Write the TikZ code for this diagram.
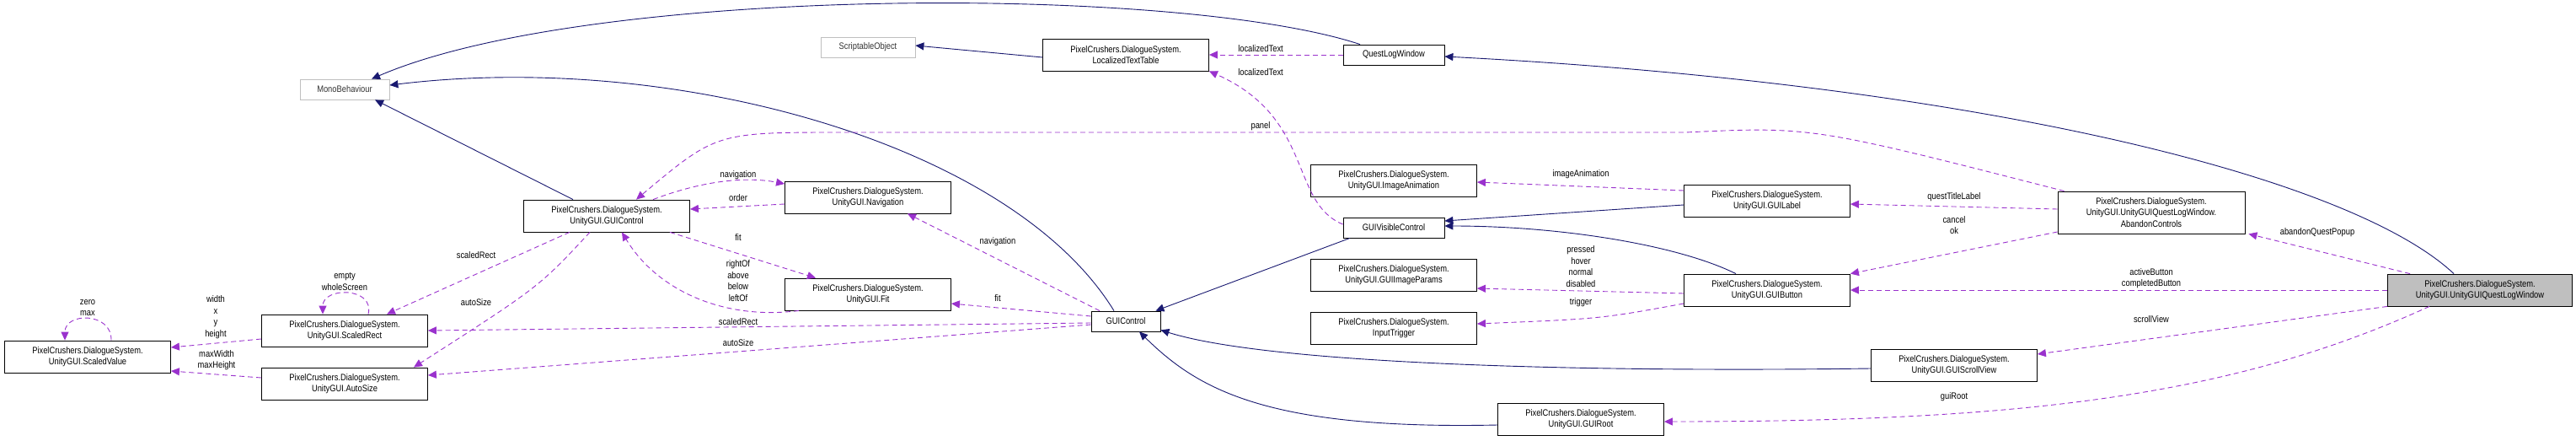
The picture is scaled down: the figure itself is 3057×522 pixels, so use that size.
\documentclass[tikz,border=0pt]{standalone}
\usepackage{fontspec}
\setmainfont{Liberation Sans}[FakeStretch=0.85]
\usetikzlibrary{arrows.meta}
\definecolor{inhblue}{HTML}{191970}
\definecolor{usepurple}{HTML}{9A32CD}
\definecolor{extgray}{HTML}{BFBFBF}

\begin{document}
\begin{tikzpicture}[%
x=1pt, y=-1pt,
cls/.style={draw=black, line width=0.8pt, fill=white, inner sep=1pt, minimum width=197pt, minimum height=38pt, align=center, font=\fontsize{11}{13.5}\selectfont},
small/.style={cls, minimum width=#1, minimum height=24pt},
ext/.style={small=#1, draw=extgray, text=black!80},
inh/.style={draw=inhblue, line width=0.9pt, -{Triangle[length=10pt,width=9pt]}},
use/.style={draw=usepurple, line width=0.9pt, dash pattern=on 6pt off 4pt, -{Triangle[length=10pt,width=9pt]}},
lbl/.style={align=center, inner sep=0pt, font=\fontsize{11}{13.5}\selectfont},
]
\useasboundingbox (0,0) rectangle (3057,522);
%% classes
\node[ext=106pt] (mono) at (409,106) {MonoBehaviour};
\node[ext=112pt] (scriptobj) at (1030,56) {ScriptableObject};
\node[cls] (loctable) at (1336,65) {PixelCrushers.DialogueSystem.\\LocalizedTextTable};
\node[small=120pt] (qlw) at (1654,65) {QuestLogWindow};
\node[cls] (gctrl) at (720,256) {PixelCrushers.DialogueSystem.\\UnityGUI.GUIControl};
\node[cls] (nav) at (1030,234) {PixelCrushers.DialogueSystem.\\UnityGUI.Navigation};
\node[cls] (fit) at (1030,349) {PixelCrushers.DialogueSystem.\\UnityGUI.Fit};
\node[cls] (srect) at (409,392) {PixelCrushers.DialogueSystem.\\UnityGUI.ScaledRect};
\node[cls] (asize) at (409,455) {PixelCrushers.DialogueSystem.\\UnityGUI.AutoSize};
\node[cls] (sval) at (104,423) {PixelCrushers.DialogueSystem.\\UnityGUI.ScaledValue};
\node[small=82pt] (guictrl) at (1336,381) {GUIControl};
\node[small=120pt] (visctrl) at (1654,270) {GUIVisibleControl};
\node[cls] (imganim) at (1654,214) {PixelCrushers.DialogueSystem.\\UnityGUI.ImageAnimation};
\node[cls] (imgparams) at (1654,326) {PixelCrushers.DialogueSystem.\\UnityGUI.GUIImageParams};
\node[cls] (trig) at (1654,389) {PixelCrushers.DialogueSystem.\\InputTrigger};
\node[cls] (glabel) at (2097,238) {PixelCrushers.DialogueSystem.\\UnityGUI.GUILabel};
\node[cls] (gbutton) at (2097,344) {PixelCrushers.DialogueSystem.\\UnityGUI.GUIButton};
\node[cls] (groot) at (1876,497) {PixelCrushers.DialogueSystem.\\UnityGUI.GUIRoot};
\node[cls] (scroll) at (2319,433) {PixelCrushers.DialogueSystem.\\UnityGUI.GUIScrollView};
\node[cls, minimum width=222pt, minimum height=50pt] (abandon) at (2553,252) {PixelCrushers.DialogueSystem.\\UnityGUI.UnityGUIQuestLogWindow.\\AbandonControls};
\node[cls, fill=extgray, minimum width=219pt] (uqlw) at (2943,344) {PixelCrushers.DialogueSystem.\\UnityGUI.UnityGUIQuestLogWindow};
%% inheritance
\draw[inh] ([xshift=-40]gctrl.north) -- ([xshift=36]mono.south);
\draw[inh] ([xshift=-40]qlw.north) .. controls (1400,-18) and (700,-18) .. ([xshift=32]mono.north);
\draw[inh] ([yshift=-3]loctable.west) -- ([yshift=2]scriptobj.east);
\draw[inh] ([xshift=-31]uqlw.north) .. controls (2790,210) and (2350,100) .. ([yshift=-2]qlw.east);
\draw[inh] ([xshift=-14]guictrl.north) .. controls (1200,170) and (800,60) .. ([yshift=5]mono.east);
\draw[inh] ([xshift=-52]visctrl.south) -- ([xshift=-6]guictrl.north east);
\draw[inh] ([yshift=-5]glabel.west) -- ([yshift=8]visctrl.east);
\draw[inh] ([xshift=-37]gbutton.north) .. controls (1990,290) and (1850,268) .. ([yshift=2]visctrl.east);
\draw[inh] ([yshift=-4]scroll.west) .. controls (1850,442) and (1500,430) .. ([yshift=2]guictrl.south east);
\draw[inh] ([yshift=-7]groot.west) .. controls (1500,510) and (1420,460) .. ([xshift=16]guictrl.south);
%% usage
\draw[use] (qlw.west) -- (loctable.east);
\draw[use] ([yshift=4]visctrl.west) .. controls (1530,240) and (1560,140) .. (loctable.south east);
\draw[use] ([xshift=8]abandon.north west) .. controls (2150,150) .. (2000,157) -- (1000,157) .. controls (850,157) .. ([xshift=35]gctrl.north);
\draw[use] ([xshift=55]gctrl.north) .. controls (840,212) and (890,210) .. ([yshift=16]nav.west);
\draw[use] ([yshift=-8]nav.west) -- ([yshift=8]gctrl.east);
\draw[use] ([xshift=75]gctrl.south) -- ([xshift=-62]fit.north);
\draw[use] ([xshift=-82]fit.south) .. controls (860,380) and (780,345) .. ([xshift=18]gctrl.south);
\draw[use] ([xshift=-44]gctrl.south) -- ([xshift=50]srect.north);
\draw[use] ([xshift=-20]gctrl.south) .. controls (640,340) .. ([xshift=82]asize.north);
\draw[use] ([xshift=28]srect.north) .. controls (445,340) and (383,340) .. ([xshift=-26]srect.north);
\draw[use] ([yshift=-10]srect.west) -- ([yshift=11]sval.east);
\draw[use] ([yshift=7]asize.west) -- ([yshift=-17]sval.east);
\draw[use] ([xshift=28]sval.north) .. controls (133,370) and (77,370) .. ([xshift=-27]sval.north);
\draw[use] ([yshift=-2]guictrl.west) -- (srect.east);
\draw[use] ([yshift=-4]guictrl.west) -- ([yshift=10]asize.east);
\draw[use] ([xshift=-31]guictrl.north) -- ([xshift=47]nav.south);
\draw[use] ([yshift=6]guictrl.west) -- ([yshift=-11]fit.east);
\draw[use] ([yshift=12]glabel.west) -- ([yshift=-2]imganim.east);
\draw[use] ([yshift=-4]gbutton.west) -- ([yshift=-16]imgparams.east);
\draw[use] ([yshift=-16]gbutton.west) .. controls (1900,378) .. ([yshift=5]trig.east);
\draw[use] ([yshift=4]abandon.west) -- ([yshift=-4]glabel.east);
\draw[use] ([yshift=-23]abandon.west) -- (gbutton.north east);
\draw[use] ([xshift=-83]uqlw.north) -- ([xshift=4]abandon.south east);
\draw[use] (uqlw.west) -- (gbutton.east);
\draw[use] (uqlw.south west) -- ([yshift=13]scroll.east);
\draw[use] ([xshift=-60]uqlw.south) .. controls (2650,470) and (2400,500) .. ([yshift=-3]groot.east);
%% labels
\node[lbl] (lloc1) at (1496,58) {localizedText};
\node[lbl] (lloc2) at (1496,86) {localizedText};
\node[lbl] (lpanel) at (1496,150) {panel};
\node[lbl] (lnav1) at (876,208) {navigation};
\node[lbl] (lorder) at (876,235) {order};
\node[lbl] (lfit1) at (876,282) {fit};
\node[lbl] (lside) at (876,333) {rightOf\\above\\below\\leftOf};
\node[lbl] (lsrect1) at (565,303) {scaledRect};
\node[lbl] (lasize1) at (565,359) {autoSize};
\node[lbl] (lself1) at (409,334) {empty\\wholeScreen};
\node[lbl] (lwh) at (256,376) {width\\x\\y\\height};
\node[lbl] (lself2) at (104,365) {zero\\max};
\node[lbl] (lmax) at (257,427) {maxWidth\\maxHeight};
\node[lbl] (lsrect2) at (876,382) {scaledRect};
\node[lbl] (lasize2) at (876,407) {autoSize};
\node[lbl] (lnav2) at (1184,287) {navigation};
\node[lbl] (lfit2) at (1184,354) {fit};
\node[lbl] (lanim) at (1876,207) {imageAnimation};
\node[lbl] (lstate) at (1876,316) {pressed\\hover\\normal\\disabled};
\node[lbl] (ltrig) at (1876,359) {trigger};
\node[lbl] (ltitle) at (2319,234) {questTitleLabel};
\node[lbl] (lcancel) at (2319,267) {cancel\\ok};
\node[lbl] (lpopup) at (2750,276) {abandonQuestPopup};
\node[lbl] (lbtn) at (2553,330) {activeButton\\completedButton};
\node[lbl] (lscroll) at (2553,379) {scrollView};
\node[lbl] (lroot) at (2319,471) {guiRoot};
\end{tikzpicture}
\end{document}
